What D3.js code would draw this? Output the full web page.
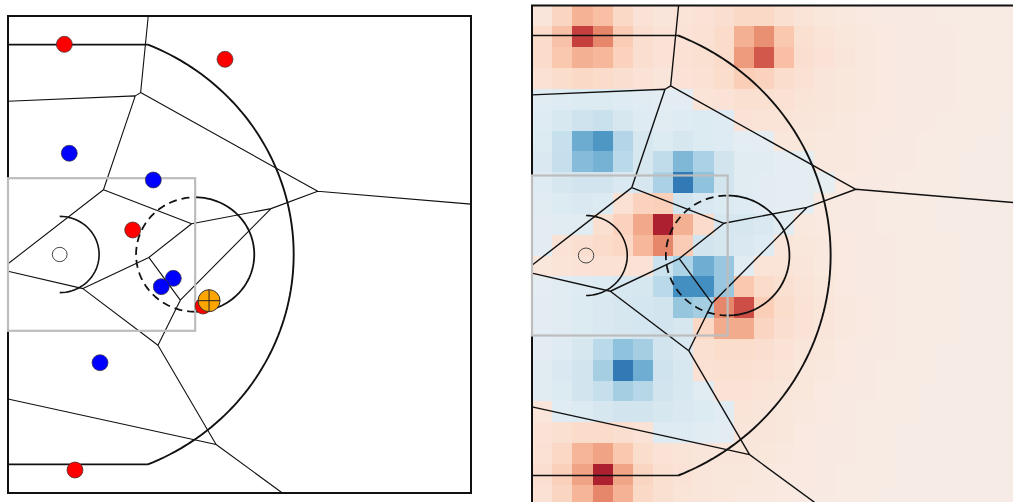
<!DOCTYPE html>
<html>
<head>
<meta charset="utf-8">
<script src="https://cdn.jsdelivr.net/npm/d3@7"></script>
<style>
  body { margin: 0; background: #fff; }
  svg { display: block; }
</style>
</head>
<body>
<div id="chart"></div>
<script>
// player positions in feet: x from the baseline, y from the top sideline
const offense = [[5.72, 2.97], [22.03, 4.54], [12.66, 22.43], [19.80, 30.40], [6.80, 47.59]];
const defense = [[6.22, 14.39], [14.75, 17.19], [16.78, 27.50], [15.56, 28.37], [9.34, 36.34]];
const ball = [20.41, 29.84];

// value per grid cell (24 x 24 over the half court), + offense / - defense
const heatGrid = [
  [1.3, 2.3, 3.9, 3.4, 2.1, 1.5, 1.3, 1.4, 1.5, 1.8, 2.1, 2.1, 1.7, 1.4, 1.2, 1.1, 1.0, 0.9, 0.9, 0.9, 0.8, 0.8, 0.8, 0.8],
  [2.0, 3.3, 7.8, 5.5, 2.8, 1.8, 1.5, 1.5, 1.6, 2.0, 4.0, 5.2, 3.0, 1.7, 1.4, 1.2, 1.1, 1.0, 0.9, 0.9, 0.9, 0.8, 0.8, 0.8],
  [2.0, 3.0, 4.0, 3.7, 2.5, 1.8, 1.5, 1.6, 1.7, 2.0, 4.8, 7.0, 3.4, 1.8, 1.5, 1.3, 1.1, 1.0, 0.9, 0.9, 0.9, 0.8, 0.8, 0.8],
  [1.6, 1.9, 2.1, 2.0, 1.8, 1.5, 1.3, 1.5, 1.6, 1.9, 2.7, 2.5, 1.9, 1.6, 1.3, 1.2, 1.1, 1.0, 0.9, 0.9, 0.9, 0.8, 0.8, 0.8],
  [-1.3, -1.4, -1.5, -1.5, -1.4, -1.3, -1.2, -1.2, 1.4, 1.5, 1.7, 1.7, 1.6, 1.4, 1.3, 1.2, 1.1, 1.0, 0.9, 0.9, 0.9, 0.8, 0.8, 0.8],
  [-1.4, -1.7, -2.2, -2.4, -1.8, -1.4, -1.3, -1.4, -1.5, -1.4, 1.5, 1.4, 1.4, 1.3, 1.2, 1.1, 1.0, 1.0, 0.9, 0.9, 0.8, 0.8, 0.8, 0.7],
  [-1.5, -2.5, -5.6, -6.6, -3.3, -1.8, -1.5, -1.8, -1.5, -1.4, -1.1, -1.0, 1.2, 1.2, 1.1, 1.1, 1.0, 0.9, 0.9, 0.8, 0.8, 0.8, 0.7, 0.7],
  [-1.6, -2.6, -4.8, -5.3, -3.0, -1.8, -2.8, -5.0, -3.6, -2.0, -1.3, -1.3, -1.1, -1.1, 1.1, 1.1, 1.0, 0.9, 0.9, 0.8, 0.8, 0.7, 0.7, 0.7],
  [-1.4, -1.8, -2.0, -2.0, -1.6, -1.8, -3.6, -8.0, -4.5, -2.0, -1.3, -1.2, -1.1, -1.1, -0.9, 1.0, 0.9, 0.9, 0.8, 0.8, 0.8, 0.7, 0.7, 0.7],
  [-1.3, -1.5, -1.6, -1.5, 1.6, 2.5, 2.6, -2.0, -1.6, -1.5, -1.4, -1.2, -1.1, -1.0, 1.0, 0.9, 0.9, 0.8, 0.8, 0.8, 0.7, 0.7, 0.7, 0.7],
  [-1.2, -1.3, -1.3, 1.7, 2.5, 4.3, 9.0, 4.0, 2.0, -1.8, -1.8, -1.6, -1.3, 1.1, 1.0, 0.9, 0.9, 0.8, 0.8, 0.8, 0.7, 0.7, 0.7, 0.7],
  [-1.2, 1.5, 1.8, 2.0, 2.2, 3.7, 5.5, 2.8, -2.0, -1.8, -1.6, -1.4, 1.3, 1.2, 1.1, 1.0, 0.9, 0.9, 0.8, 0.8, 0.8, 0.7, 0.7, 0.7],
  [1.2, 1.4, 1.5, 1.6, 1.6, 1.5, -2.3, -3.5, -5.5, -4.2, -1.3, 1.4, 1.4, 1.3, 1.1, 1.0, 0.9, 0.9, 0.8, 0.8, 0.8, 0.7, 0.7, 0.7],
  [-1.1, -1.3, -1.4, -1.5, -1.7, -1.8, -3.0, -7.0, -7.0, -4.2, 3.0, 2.0, 1.7, 1.4, 1.2, 1.0, 0.9, 0.9, 0.8, 0.8, 0.8, 0.7, 0.7, 0.7],
  [-1.2, -1.3, -1.5, -1.6, -1.8, -1.9, -2.0, -4.3, -3.8, 5.5, 7.3, 2.7, 1.9, 1.5, 1.3, 1.1, 1.0, 0.9, 0.8, 0.8, 0.8, 0.7, 0.7, 0.7],
  [-1.2, -1.3, -1.5, -1.6, -1.8, -1.9, -2.0, -1.8, 2.2, 4.2, 4.2, 2.3, 1.8, 1.5, 1.3, 1.1, 1.0, 0.9, 0.8, 0.8, 0.8, 0.7, 0.7, 0.7],
  [-1.2, -1.4, -1.8, -3.0, -4.5, -3.8, -2.0, -1.6, 1.7, 1.9, 1.9, 1.8, 1.5, 1.3, 1.2, 1.0, 0.9, 0.9, 0.8, 0.8, 0.7, 0.7, 0.7, 0.7],
  [-1.3, -1.6, -2.0, -3.8, -8.0, -5.5, -2.2, -1.7, 1.6, 1.7, 1.7, 1.6, 1.4, 1.2, 1.1, 1.0, 0.9, 0.8, 0.8, 0.8, 0.7, 0.7, 0.7, 0.7],
  [-1.3, -1.5, -2.0, -2.6, -3.8, -3.2, -2.0, -1.7, -1.3, 1.5, 1.5, 1.4, 1.3, 1.2, 1.0, 0.9, 0.9, 0.8, 0.8, 0.7, 0.7, 0.7, 0.7, 0.7],
  [1.3, -1.3, -1.5, -1.8, -2.0, -2.0, -1.8, -1.6, -1.5, -1.3, 1.4, 1.3, 1.2, 1.1, 1.0, 0.9, 0.8, 0.8, 0.8, 0.7, 0.7, 0.7, 0.7, 0.7],
  [1.5, 1.7, 2.0, 2.0, 1.8, 1.5, -1.4, -1.4, -1.3, -1.2, 1.3, 1.3, 1.2, 1.0, 0.9, 0.9, 0.8, 0.8, 0.7, 0.7, 0.7, 0.7, 0.7, 0.7],
  [1.6, 2.2, 3.8, 4.5, 3.0, 1.9, 1.5, 1.4, 1.3, 1.3, 1.3, 1.2, 1.1, 1.0, 0.9, 0.9, 0.8, 0.8, 0.7, 0.7, 0.7, 0.7, 0.7, 0.7],
  [1.8, 2.6, 4.5, 9.0, 4.4, 2.3, 1.7, 1.5, 1.3, 1.2, 1.2, 1.1, 1.0, 1.0, 0.9, 0.8, 0.8, 0.8, 0.7, 0.7, 0.7, 0.7, 0.7, 0.7],
  [1.6, 2.3, 3.8, 5.5, 3.9, 2.1, 1.7, 1.4, 1.3, 1.2, 1.1, 1.1, 1.0, 0.9, 0.9, 0.8, 0.8, 0.7, 0.7, 0.7, 0.7, 0.7, 0.7, 0.7]
];

const width = 1013;
const height = 502;

const svg = d3.select("#chart")
  .append("svg")
  .attr("width", width)
  .attr("height", height);

const panels = [
  {
    x: d3.scaleLinear().domain([0, 47]).range([8, 471]),
    y: d3.scaleLinear().domain([0, 50]).range([16, 493]),
    heat: false,
    lw: 1.1
  },
  {
    x: d3.scaleLinear().domain([0, 47]).range([532, 1016]),
    y: d3.scaleLinear().domain([0, 50]).range([5.5, 505.5]),
    heat: true,
    lw: 1.4
  }
];

const color = d3.scaleDiverging(d3.interpolateRdBu).domain([11.25, 0, -11.25]);
const players = offense.concat(defense);
const voronoi = d3.Delaunay.from(players).voronoi([0, 0, 47, 50]);

function arcPoints(cx, cy, r, a0, a1, n = 90) {
  return d3.range(n + 1).map((i) => {
    let a = a0 + ((a1 - a0) * i) / n;
    return [cx + r * Math.cos(a), cy + r * Math.sin(a)];
  });
}

function drawHeat(g, sx, sy) {
  let cols = d3.scaleBand().domain(d3.range(24)).range([sx(0), sx(47)]);
  let rows = d3.scaleBand().domain(d3.range(24)).range([sy(0), sy(50)]);
  let cells = heatGrid.flatMap((row, r) => row.map((v, c) => ({ r, c, v })));
  g.append("g")
    .selectAll("rect")
    .data(cells)
    .join("rect")
    .attr("x", (d) => cols(d.c))
    .attr("y", (d) => rows(d.r))
    .attr("width", cols.bandwidth() + 0.3)
    .attr("height", rows.bandwidth() + 0.3)
    .attr("fill", (d) => color(d.v))
    .attr("shape-rendering", "crispEdges");
}

function drawVoronoi(g, sx, sy, lw) {
  let p = d3.path();
  let ctx = {
    moveTo: (x, y) => p.moveTo(sx(x), sy(y)),
    lineTo: (x, y) => p.lineTo(sx(x), sy(y)),
    closePath: () => p.closePath()
  };
  voronoi.render(ctx);
  g.append("path")
    .attr("d", p.toString())
    .attr("fill", "none")
    .attr("stroke", "#111")
    .attr("stroke-width", lw);
}

function drawCourt(g, sx, sy) {
  let line = d3.line().x((d) => sx(d[0])).y((d) => sy(d[1]));
  let stroke = (sel, w = 1.6) => sel.attr("fill", "none").attr("stroke", "#111").attr("stroke-width", w);

  // corner threes and arc
  let a = Math.asin(22 / 23.75);
  g.append("path").attr("d", line([[0, 3], [14.2, 3]])).call(stroke);
  g.append("path").attr("d", line([[0, 47], [14.2, 47]])).call(stroke);
  g.append("path").attr("d", line(arcPoints(5.25, 25, 23.75, -a, a))).call(stroke, 1.9);

  // restricted area
  g.append("path").attr("d", line(arcPoints(5.25, 25, 4, -Math.PI / 2, Math.PI / 2, 40))).call(stroke);

  // free throw circle, solid outer half and dashed inner half
  g.append("path").attr("d", line(arcPoints(19, 25, 6, -Math.PI / 2, Math.PI / 2, 60))).call(stroke, 1.8);
  g.append("path")
    .attr("d", line(arcPoints(19, 25, 6, Math.PI / 2, (3 * Math.PI) / 2, 60)))
    .call(stroke, 1.8)
    .attr("stroke-dasharray", "8,5");

  // court outline
  g.append("rect")
    .attr("x", sx(0))
    .attr("y", sy(0))
    .attr("width", sx(47) - sx(0))
    .attr("height", sy(50) - sy(0))
    .call(stroke, 2);

  // lane
  g.append("rect")
    .attr("x", sx(0))
    .attr("y", sy(17))
    .attr("width", sx(19) - sx(0))
    .attr("height", sy(33) - sy(17))
    .attr("fill", "none")
    .attr("stroke", "#bdbdbd")
    .attr("stroke-width", 2.2);

  // hoop
  g.append("ellipse")
    .attr("cx", sx(5.25))
    .attr("cy", sy(25))
    .attr("rx", sx(0.75) - sx(0))
    .attr("ry", sy(0.75) - sy(0))
    .attr("fill", "none")
    .attr("stroke", "#444")
    .attr("stroke-width", 1);
}

function drawPlayers(g, sx, sy) {
  g.selectAll("circle.off")
    .data(offense)
    .join("circle")
    .attr("class", "off")
    .attr("cx", (d) => sx(d[0]))
    .attr("cy", (d) => sy(d[1]))
    .attr("r", 8)
    .attr("fill", "#ff0000")
    .attr("stroke", "#333")
    .attr("stroke-width", 0.7);

  g.selectAll("circle.def")
    .data(defense)
    .join("circle")
    .attr("class", "def")
    .attr("cx", (d) => sx(d[0]))
    .attr("cy", (d) => sy(d[1]))
    .attr("r", 8)
    .attr("fill", "#0000ff")
    .attr("stroke", "#333")
    .attr("stroke-width", 0.7);

  let bx = sx(ball[0]);
  let by = sy(ball[1]);
  let r = 11;
  g.append("circle")
    .attr("cx", bx)
    .attr("cy", by)
    .attr("r", r)
    .attr("fill", "#ffa500")
    .attr("stroke", "#333")
    .attr("stroke-width", 1);
  g.append("path")
    .attr("d", `M${bx - r},${by}H${bx + r}M${bx},${by - r}V${by + r}`)
    .attr("stroke", "#222")
    .attr("stroke-width", 1);
}

panels.forEach((p) => {
  let g = svg.append("g");
  if (p.heat) drawHeat(g, p.x, p.y);
  drawVoronoi(g, p.x, p.y, p.lw);
  drawCourt(g, p.x, p.y);
  if (!p.heat) drawPlayers(g, p.x, p.y);
});
</script>
</body>
</html>
